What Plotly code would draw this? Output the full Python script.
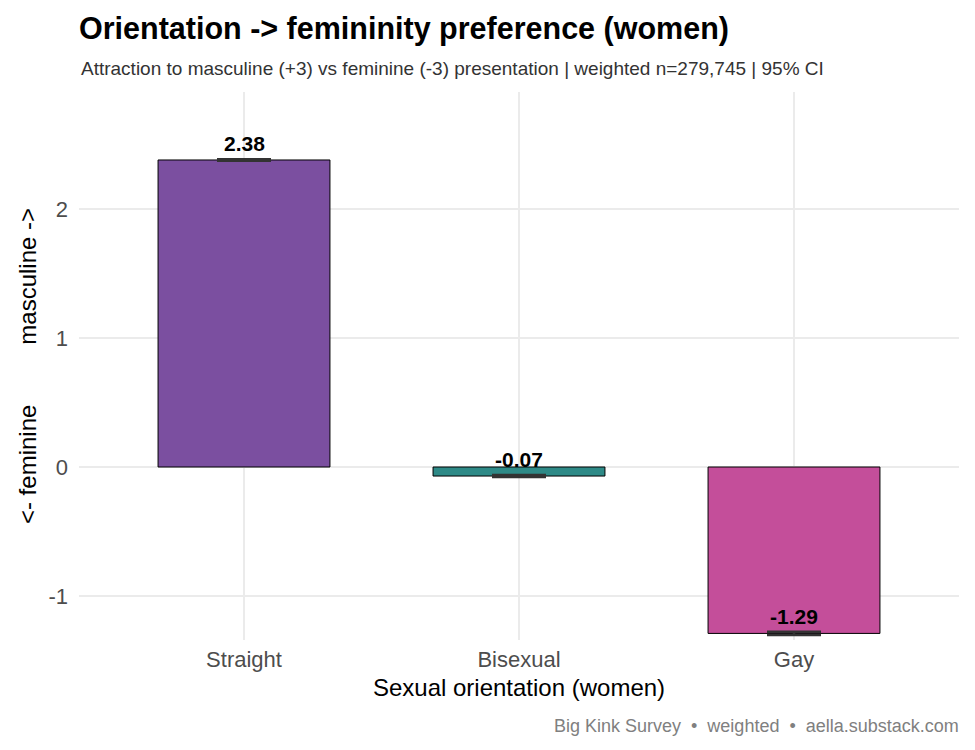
import plotly.graph_objects as go

categories = ["Straight", "Bisexual", "Gay"]
means = [2.38, -0.07, -1.29]
ci_half = [0.006, 0.008, 0.012]
colors = ["#7B4FA0", "#2E8A87", "#C44E9A"]
labels = ["2.38", "-0.07", "-1.29"]
yticks = [-1, 0, 1, 2]
yticktext = ["-1", "0", "1", "2"]

FONT = "Liberation Sans, Arial"
fig = go.Figure()
fig.add_trace(go.Bar(
    x=categories, y=means, width=0.625,
    marker=dict(color=colors, line=dict(color="black", width=1)),
    error_y=dict(type="data", array=ci_half, color="#333333", thickness=2.5, width=27),
    showlegend=False, hoverinfo="skip",
))
for c, m, t in zip(categories, means, labels):
    fig.add_annotation(x=c, y=m, text="<b>" + t + "</b>", showarrow=False,
                       yanchor="bottom", yshift=3,
                       font=dict(family=FONT, size=21, color="black"))

fig.update_layout(
    width=975, height=750,
    margin=dict(l=79, r=16, t=92, b=110),
    plot_bgcolor="white", paper_bgcolor="white",
    font=dict(family=FONT, color="black"),
    title=dict(text="<b>Orientation -> femininity preference (women)</b>",
               x=79/975, xanchor="left", y=1-28/750, yanchor="middle",
               font=dict(size=30.5, color="black")),
    xaxis=dict(range=[-0.6, 2.6], showgrid=True, gridcolor="#EBEBEB", gridwidth=1.5,
               zeroline=False, ticks="", ticklabelstandoff=4,
               tickfont=dict(size=22, color="#4D4D4D"),
               title=dict(text="Sexual orientation (women)", font=dict(size=24, color="black"), standoff=8)),
    yaxis=dict(range=[-1.341, 2.907], tickvals=yticks, ticktext=yticktext, showgrid=True,
               gridcolor="#EBEBEB", gridwidth=1.5, zeroline=False, ticks="",
               ticklabelstandoff=10,
               tickfont=dict(size=22, color="#4D4D4D"),
               title=dict(text="<- feminine         masculine ->", font=dict(size=24, color="black"), standoff=5)),
)
fig.add_annotation(xref="paper", yref="paper", x=0, y=1 + (92-68)/548, xanchor="left", yanchor="middle",
                   text="Attraction to masculine (+3) vs feminine (-3) presentation | weighted n=279,745 | 95% CI",
                   showarrow=False, font=dict(size=19, color="#333333"))
fig.add_annotation(xref="paper", yref="paper", x=1.002, y=-(726-640)/548, xanchor="right", yanchor="middle",
                   text="Big Kink Survey  \u2022  weighted  \u2022  aella.substack.com",
                   showarrow=False, font=dict(size=18, color="#808080"))

fig.write_html("out.html")
